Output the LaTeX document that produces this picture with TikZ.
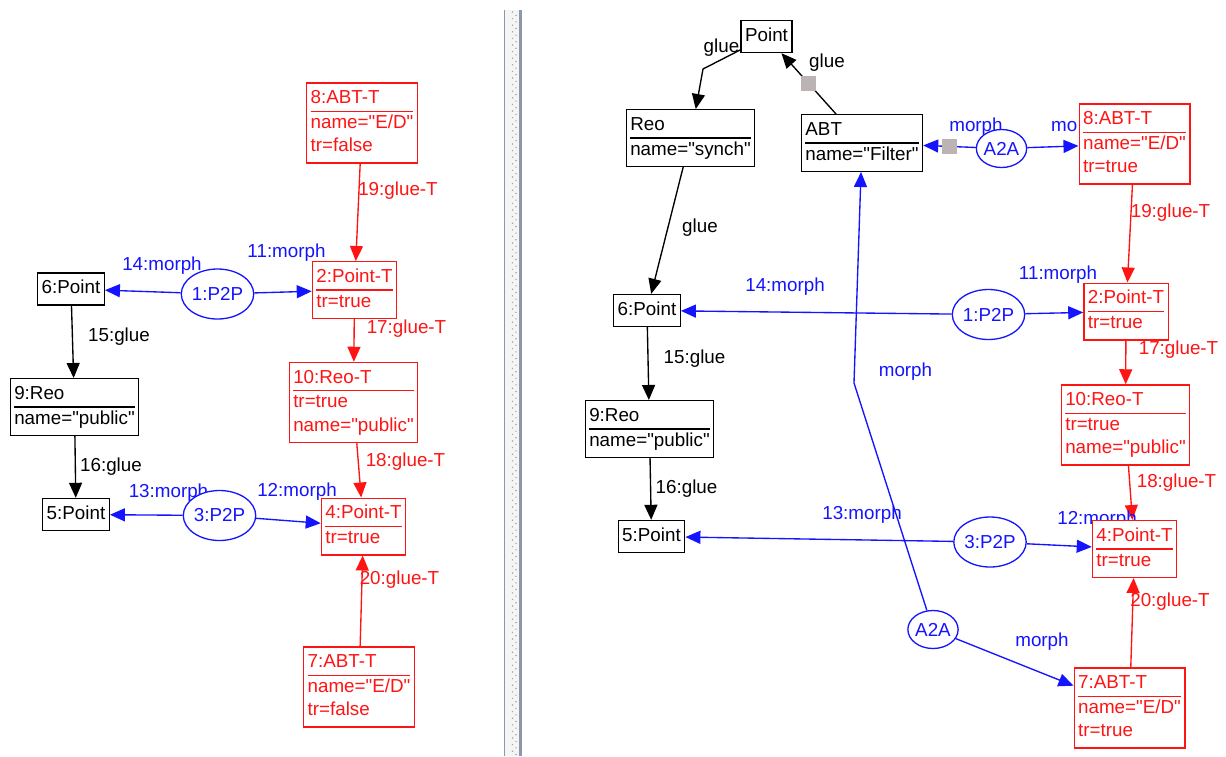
\documentclass[tikz,border=0pt]{standalone}
\usepackage{fontspec}
\setmainfont{Liberation Sans}[Ligatures=TeXOff]
\usepackage{xcolor}
\usetikzlibrary{shapes.geometric,arrows.meta,backgrounds}
\definecolor{sqgray}{RGB}{188,180,180}
\definecolor{barline}{RGB}{140,152,170}
\definecolor{morphcol}{RGB}{20,20,255}
\definecolor{gluecol}{RGB}{255,20,20}
\setlength{\arrayrulewidth}{1.1pt}
\newcommand{\objtab}[1]{\begin{tabular}{@{}l@{}}#1\end{tabular}}

\tikzset{
  obj/.style={draw, fill=white, line width=1.3pt, inner xsep=4pt, inner ysep=4.3pt},
  objT/.style={obj, draw=gluecol, text=gluecol},
  mnode/.style={ellipse, draw=morphcol, text=morphcol, fill=white, line width=1.3pt, inner sep=0pt},
  p2p/.style={minimum width=63pt, minimum height=50pt},
  a2a/.style={minimum width=49pt, minimum height=38pt},
  glue/.style={draw=black, line width=1.35pt, -{Triangle[length=15pt,width=13pt]}},
  glueT/.style={glue, draw=gluecol},
  morph/.style={glue, draw=morphcol},
  sq/.style={fill=sqgray, minimum size=15pt, inner sep=0pt},
  lbl/.style={inner sep=0pt},
  lblT/.style={lbl, text=gluecol},
  lblM/.style={lbl, text=morphcol}
}

\begin{document}
\begin{tikzpicture}[x=1pt,y=-1pt,font=\fontsize{18.8}{23.5}\selectfont]
\useasboundingbox (0,0) rectangle (1226,756);

% left graph
\node[objT] (l8) at (362,123) {\objtab{8:ABT-T\\\hline name="E/D"\\tr=false}};
\node[objT] (l2) at (354.5,290) {\objtab{2:Point-T\\\hline tr=true}};
\node[obj] (l6) at (71,289) {\objtab{6:Point}};
\node[mnode,p2p] (lp1) at (217.5,294) {1:P2P};
\node[objT] (l10) at (353.5,402.5) {\objtab{10:Reo-T\\\hline tr=true\\name="public"}};
\node[obj] (l9) at (74.5,407) {\objtab{9:Reo\\\hline name="public"}};
\node[obj] (l5) at (76,514.5) {\objtab{5:Point}};
\node[mnode,p2p] (lp3) at (219.5,515.5) {3:P2P};
\node[objT] (l4) at (363.5,526.5) {\objtab{4:Point-T\\\hline tr=true}};
\node[objT] (l7) at (359,687) {\objtab{7:ABT-T\\\hline name="E/D"\\tr=false}};

% right graph
\node[obj] (rpt) at (766.5,36.5) {\objtab{Point}};
\node[obj] (rreo) at (690.5,138) {\objtab{Reo\\\hline name="synch"}};
\node[obj] (rabt) at (862,143) {\objtab{ABT\\\hline name="Filter"}};
\node[mnode,a2a] (ra1) at (1001.5,148.5) {A2A};
\node[objT] (r8) at (1134.5,144) {\objtab{8:ABT-T\\\hline name="E/D"\\tr=true}};
\node[obj] (r6) at (647,310.5) {\objtab{6:Point}};
\node[mnode,p2p] (rp1) at (988.5,314.5) {1:P2P};
\node[objT] (r2) at (1126,311.5) {\objtab{2:Point-T\\\hline tr=true}};
\node[obj] (r9) at (649.5,429) {\objtab{9:Reo\\\hline name="public"}};
\node[objT] (r10) at (1125.5,425) {\objtab{10:Reo-T\\\hline tr=true\\name="public"}};
\node[obj] (r5) at (651.5,536.5) {\objtab{5:Point}};
\node[mnode,p2p] (rp3) at (990,542) {3:P2P};
\node[objT] (r4) at (1134.5,549) {\objtab{4:Point-T\\\hline tr=true}};
\node[mnode,a2a] (ra2) at (933,629.5) {A2A};
\node[objT] (r7) at (1129.5,708) {\objtab{7:ABT-T\\\hline name="E/D"\\tr=true}};
\coordinate (gb) at (703,69);
\coordinate (mb) at (854,383);

\begin{scope}[on background layer]
\fill[white] (0,0) rectangle (1226,756);
% split bar
\fill[gray!8] (505,10) rectangle (520,756);
\draw[barline,line width=1.5pt] (504.5,10) -- (504.5,756);
\draw[barline,line width=2.5pt] (520.5,10) -- (520.5,756);
\foreach \y in {12,18.6,...,754} {
  \fill[gray!70] (512.5,\y) circle (0.8pt);
  \fill[gray!70] (516,\y+3.3) circle (0.8pt);
}

% left edges
\draw[glueT] (l8) -- (l2);
\draw[glueT] (l2) -- (l10);
\draw[glueT] (l10) -- (l4);
\draw[glueT] (l7) -- (l4);
\draw[glue] (l6) -- (l9);
\draw[glue] (l9) -- (l5);
\draw[morph] (lp1) -- (l6);
\draw[morph] (lp1) -- (l2);
\draw[morph] (lp3) -- (l5);
\draw[morph] (lp3) -- (l4);
\node[lblT] (t19l) at (398,191) {19:glue-T};
\node[lblT] (t17l) at (406.5,329) {17:glue-T};
\node[lblT] (t18l) at (405.5,462) {18:glue-T};
\node[lblT] (t20l) at (399.5,580) {20:glue-T};
\node[lbl] (t15l) at (119,337) {15:glue};
\node[lbl] (t16l) at (111,467) {16:glue};
\node[lblM] (t14l) at (162,266) {14:morph};
\node[lblM] (t11l) at (286.5,253) {11:morph};
\node[lblM] (t13l) at (168.5,493) {13:morph};
\node[lblM] (t12l) at (297,492) {12:morph};

% right edges
\draw[glue] (rpt) -- (gb) -- (rreo);
\draw[glue] (rabt) -- node[sq] (sq1) {} (rpt);
\draw[glue] (rreo) -- (r6);
\draw[glue] (r6) -- (r9);
\draw[glue] (r9) -- (r5);
\draw[morph] (ra1) -- node[sq] (sq2) {} (rabt);
\draw[morph] (ra1) -- (r8);
\draw[morph] (ra2) -- (mb) -- (rabt);
\draw[morph] (ra2) -- (r7);
\draw[morph] (rp1) -- (r6);
\draw[morph] (rp1) -- (r2);
\draw[morph] (rp3) -- (r5);
\draw[morph] (rp3) -- (r4);
\draw[glueT] (r8) -- (r2);
\draw[glueT] (r2) -- (r10);
\draw[glueT] (r10) -- (r4);
\draw[glueT] (r7) -- (r4);
\node[lbl] (tg1) at (721.5,48) {glue};
\node[lbl] (tg2) at (827,63) {glue};
\node[lbl] (tg3) at (700,228) {glue};
\node[lbl] (t15r) at (694.5,359) {15:glue};
\node[lbl] (t16r) at (686.5,489) {16:glue};
\node[lblM] (tm1) at (976,127) {morph};
\node[lblM,anchor=west] (tm2) at (1051,127) {mo};
\node[lblM] (tm3) at (905.5,372) {morph};
\node[lblM] (tm4) at (1042,642) {morph};
\node[lblM] (t14r) at (785,287) {14:morph};
\node[lblM] (t11r) at (1058,275) {11:morph};
\node[lblM] (t13r) at (862,515) {13:morph};
\node[lblM] (t12r) at (1097,520) {12:morph};
\node[lblT] (t19r) at (1170.5,213) {19:glue-T};
\node[lblT] (t17r) at (1178.5,350) {17:glue-T};
\node[lblT] (t18r) at (1176.5,483) {18:glue-T};
\node[lblT] (t20r) at (1170,602) {20:glue-T};
\end{scope}
\end{tikzpicture}
\end{document}
